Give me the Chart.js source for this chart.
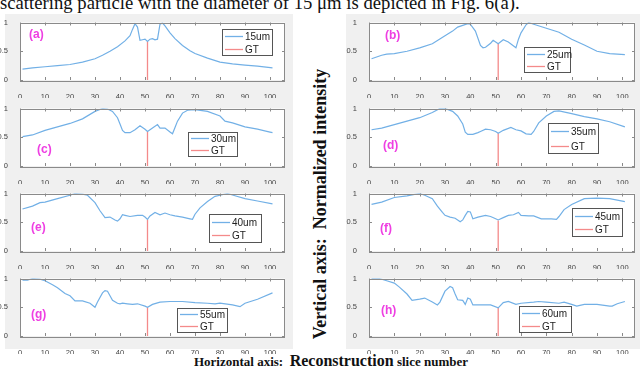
<!DOCTYPE html>
<html><head><meta charset="utf-8">
<script src="https://cdn.jsdelivr.net/npm/chart.js@4.4.1/dist/chart.umd.min.js"></script>
<style>
html,body{margin:0;padding:0;}
body{width:640px;height:370px;background:#fff;position:relative;overflow:hidden;}
.bg{position:absolute;background:#f0f0f0;}
canvas{position:absolute;}
.cap{position:absolute;left:0px;top:-7px;font:18.7px/19px "Liberation Serif",serif;color:#111;white-space:nowrap;}
.vt{position:absolute;left:320px;top:204px;transform:translate(-50%,-50%) rotate(-90deg);font:bold 18px/18px "Liberation Serif",serif;color:#111;white-space:nowrap;}
.ht{position:absolute;left:331px;top:352px;transform:translateX(-50%);font:bold 13px/18px "Liberation Serif",serif;color:#111;white-space:nowrap;}
.ht b{font-size:16px;}
</style>
</head><body>
<div class="bg" style="left:5px;top:14px;width:288px;height:335px"></div>
<div class="bg" style="left:346px;top:14px;width:294px;height:335px"></div>
<div class="cap">scattering particle with the diameter of 15 μm is depicted in Fig. 6(a).</div>
<div class="vt">Vertical axis:&nbsp; Normalized intensity</div>
<div class="ht">Horizontal axis:&nbsp; <b>Reconstruction</b> slice number</div>
<script>
// ---- data ----
const panelLabels = ['(a)','(b)','(c)','(d)','(e)','(f)','(g)','(h)'];
const sizeLabels = ['15um','25um','30um','35um','40um','45um','55um','60um'];
const gtLabel = 'GT';
const gtSlice = 51;
const gtTops = [0.67,0.63,0.60,0.57,0.55,0.53,0.50,0.49];
const xTickLabels = [0,10,20,30,40,50,60,70,80,90,100];
const yTickLabels = [0,0.5,1];

const xA = [1,5,10,15,20,25,30,33,36,39,42,44,45,46,47,48,49,50,51,52,53,54,55,56,57,58,60,62,65,68,70,75,80,85,90,95,101];
const yA = [0.19,0.21,0.23,0.25,0.27,0.31,0.37,0.43,0.50,0.58,0.68,0.77,0.88,0.98,0.92,0.69,0.70,0.71,0.67,0.71,0.72,0.70,0.71,0.97,0.99,0.94,0.82,0.72,0.60,0.51,0.46,0.38,0.31,0.28,0.26,0.24,0.21];

const xB = [1,5,7,10,15,20,25,30,33,35,39,40,42,44,45,46,48,49,50,51,53,55,58,59,60,62,63,65,70,75,80,85,90,95,101];
const yB = [0.37,0.43,0.45,0.46,0.50,0.56,0.63,0.77,0.85,0.92,0.98,0.97,0.85,0.60,0.56,0.57,0.64,0.69,0.66,0.63,0.70,0.66,0.56,0.71,0.82,0.96,1.00,0.97,0.90,0.83,0.71,0.61,0.50,0.46,0.44];

const xC = [1,5,10,15,20,25,30,33,35,37,39,40,41,42,44,46,48,49,50,51,53,55,56,58,60,61,62,63,65,67,70,75,80,82,85,90,95,100,101];
const yC = [0.51,0.54,0.62,0.68,0.74,0.82,0.95,1.00,0.99,0.95,0.84,0.73,0.62,0.58,0.58,0.63,0.70,0.67,0.64,0.60,0.66,0.72,0.66,0.66,0.59,0.56,0.67,0.78,0.92,0.97,0.98,0.95,0.87,0.78,0.75,0.68,0.64,0.59,0.58];

const xD = [1,5,10,15,20,25,28,30,33,35,37,38,39,41,43,44,46,48,50,51,53,56,58,60,62,64,65,67,70,73,75,80,85,90,95,101];
const yD = [0.63,0.66,0.72,0.78,0.84,0.93,1.00,1.00,0.95,0.87,0.73,0.59,0.55,0.55,0.58,0.60,0.64,0.63,0.60,0.57,0.62,0.67,0.63,0.61,0.56,0.55,0.60,0.75,0.87,0.95,0.96,0.91,0.86,0.82,0.77,0.68];

const xE = [1,5,8,10,15,20,22,25,27,30,32,34,36,38,39,40,41,42,44,47,49,50,51,52,54,56,58,60,62,65,68,69,70,72,75,78,80,83,86,90,95,101];
const yE = [0.73,0.78,0.84,0.85,0.91,0.97,1.00,0.99,0.97,0.84,0.70,0.58,0.59,0.54,0.52,0.56,0.63,0.62,0.60,0.62,0.62,0.59,0.55,0.61,0.67,0.63,0.66,0.63,0.61,0.59,0.56,0.55,0.64,0.75,0.86,0.95,0.97,1.00,0.96,0.91,0.87,0.82];

const xF = [1,5,10,15,20,22,25,27,29,30,32,34,36,37,38,39,40,41,43,46,48,50,51,53,55,57,59,60,63,65,68,72,74,75,77,80,85,90,95,101];
const yF = [0.81,0.85,0.93,0.96,1.00,0.97,0.91,0.78,0.67,0.62,0.59,0.57,0.51,0.54,0.62,0.69,0.68,0.56,0.59,0.62,0.60,0.56,0.54,0.58,0.62,0.63,0.67,0.62,0.61,0.61,0.56,0.56,0.55,0.60,0.72,0.81,0.91,0.92,0.91,0.86];

const xG = [1,3,5,8,10,13,15,18,20,22,25,28,30,31,33,34,35,36,37,39,40,41,43,45,47,50,51,53,56,60,65,70,75,78,80,85,88,90,95,101];
const yG = [0.97,0.97,1.00,0.99,0.96,0.89,0.84,0.74,0.70,0.61,0.61,0.57,0.50,0.59,0.75,0.79,0.78,0.70,0.62,0.57,0.56,0.57,0.56,0.55,0.56,0.52,0.50,0.55,0.59,0.60,0.60,0.58,0.57,0.56,0.57,0.54,0.51,0.57,0.64,0.75];

const xH = [1,4,7,10,12,15,17,20,22,25,27,28,30,32,33,34,35,37,38,39,40,41,44,48,51,53,55,58,60,65,67,70,75,77,80,82,85,90,95,96,98,101];
const yH = [1.00,1.00,0.96,0.92,0.85,0.73,0.62,0.64,0.66,0.59,0.54,0.59,0.78,0.86,0.84,0.73,0.63,0.62,0.55,0.66,0.64,0.54,0.54,0.54,0.49,0.58,0.60,0.55,0.57,0.59,0.60,0.59,0.57,0.59,0.55,0.52,0.55,0.55,0.52,0.52,0.56,0.60];

const seriesX = [xA,xB,xC,xD,xE,xF,xG,xH];
const seriesY = [yA,yB,yC,yD,yE,yF,yG,yH];

// ---- layout (positions / styles) ----
const colLeft = [20, 369];
const colWidth = [265, 266];
const colXMax = [106, 105];
const rowTop = [19, 105, 190, 275];
const plotH = 61;
const legendBoxes = [[222,29,50,26],[524,47,46,25],[188,132,49,24],[548,123,50,30],[209,214,52,28],[572,208,50,28],[177,308,50,24],[519,306,52,26]];
const labelPos = [[29,35],[385,36],[37,150],[383,146],[31,228],[380,229],[31,315],[381,311]];
const BLUE = '#72b0e6', RED = '#f48a8a', MAG = '#ee3fe2';
const PADL = 24, PADT = 5, PADR = 5, PADB = 18;

const decor = {
  id: 'decor',
  beforeDraw(chart) {
    const a = chart.chartArea, c = chart.ctx;
    c.save(); c.fillStyle = '#fff'; c.fillRect(a.left, a.top, a.right - a.left, a.bottom - a.top); c.restore();
  },
  afterDraw(chart) {
    const o = chart.options.plugins.decor, a = chart.chartArea, c = chart.ctx;
    const xs = chart.scales.x, ys = chart.scales.y;
    c.save();
    c.strokeStyle = '#8a8a8a'; c.lineWidth = 1;
    c.strokeRect(Math.round(a.left) + 0.5, Math.round(a.top) + 0.5, Math.round(a.right - a.left) - 1, Math.round(a.bottom - a.top));
    c.beginPath();
    xs.ticks.forEach(t => {
      const px = Math.round(xs.getPixelForValue(t.value)) + 0.5;
      c.moveTo(px, a.bottom); c.lineTo(px, a.bottom - 3);
      c.moveTo(px, a.top); c.lineTo(px, a.top + 3);
    });
    ys.ticks.forEach(t => {
      const py = Math.round(ys.getPixelForValue(t.value)) + 0.5;
      c.moveTo(a.left, py); c.lineTo(a.left + 3, py);
      c.moveTo(a.right, py); c.lineTo(a.right - 3, py);
    });
    c.stroke();
    // legend
    const [bx, by, bw, bh] = o.box.map((v, i) => v - (i === 0 ? o.offX : i === 1 ? o.offY : 0));
    c.fillStyle = '#fff'; c.fillRect(bx, by, bw, bh);
    c.strokeStyle = '#555'; c.strokeRect(Math.round(bx) + 0.5, Math.round(by) + 0.5, bw, bh);
    const rows = [by + bh * 0.27, by + bh * 0.76];
    chart.data.datasets.forEach((ds, i) => {
      const ry = Math.round(rows[i]) + 0.5;
      c.strokeStyle = ds.borderColor; c.lineWidth = 1.3;
      c.beginPath(); c.moveTo(bx + 3, ry); c.lineTo(bx + 21, ry); c.stroke();
      c.fillStyle = '#222'; c.font = '10px "Liberation Sans", Arial, sans-serif';
      c.textBaseline = 'middle'; c.textAlign = 'left';
      c.fillText(ds.label, bx + 23, ry + 0.5);
    });
    // panel label
    c.fillStyle = MAG; c.font = 'bold 12px "Liberation Sans", Arial, sans-serif';
    c.textBaseline = 'middle'; c.textAlign = 'left';
    c.fillText(o.label, o.lx - o.offX, o.ly - o.offY);
    c.restore();
  }
};

for (let i = 0; i < 8; i++) {
  const col = i % 2, row = Math.floor(i / 2);
  const L = colLeft[col], T = rowTop[row], W = colWidth[col];
  const cv = document.createElement('canvas');
  const cw = W + PADL + PADR, ch = plotH + PADT + PADB;
  const offX = L - PADL, offY = T - PADT;
  cv.width = cw; cv.height = ch;
  cv.style.left = offX + 'px'; cv.style.top = offY + 'px';
  cv.style.width = cw + 'px'; cv.style.height = ch + 'px';
  document.body.appendChild(cv);
  const pts = seriesX[i].map((x, k) => ({x, y: seriesY[i][k]}));
  new Chart(cv, {
    type: 'line',
    data: {
      datasets: [
        {label: sizeLabels[i], data: pts, borderColor: BLUE, borderWidth: 1.2, pointRadius: 0, tension: 0, fill: false},
        {label: gtLabel, data: [{x: gtSlice, y: 0}, {x: gtSlice, y: gtTops[i]}], borderColor: RED, borderWidth: 1.3, pointRadius: 0, fill: false}
      ]
    },
    options: {
      responsive: false, animation: false, devicePixelRatio: 1,
      layout: {padding: {left: 0, top: PADT, right: PADR, bottom: 0}},
      scales: {
        x: {type: 'linear', min: 0, max: colXMax[col],
          afterBuildTicks: s => { s.ticks = xTickLabels.map(v => ({value: v})); },
          afterFit: s => { s.height = PADB; },
          grid: {display: false}, border: {display: false},
          ticks: {autoSkip: false, maxRotation: 0, padding: 4, color: '#444', font: {size: 7.5, family: '"Liberation Sans", Arial, sans-serif'}, callback: v => String(v)}},
        y: {min: 0, max: 1,
          afterBuildTicks: s => { s.ticks = yTickLabels.map(v => ({value: v})); },
          afterFit: s => { s.width = PADL; },
          grid: {display: false}, border: {display: false},
          ticks: {padding: 4, color: '#444', font: {size: 7.5, family: '"Liberation Sans", Arial, sans-serif'}, callback: v => String(v)}}
      },
      plugins: {
        legend: {display: false}, tooltip: {enabled: false},
        decor: {box: legendBoxes[i], label: panelLabels[i], lx: labelPos[i][0], ly: labelPos[i][1], offX, offY}
      }
    },
    plugins: [decor]
  });
}
</script>
</body></html>
